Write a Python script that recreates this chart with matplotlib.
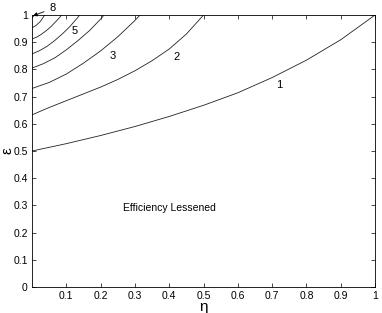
import matplotlib
matplotlib.use('Agg')
import matplotlib.pyplot as plt

plt.rcParams['font.family'] = ['Liberation Sans', 'DejaVu Sans']

# contour curves: (eta, epsilon) points
curve1_eta = [0.0, 0.1, 0.2, 0.3, 0.4, 0.5, 0.6, 0.7, 0.8, 0.9, 1.0]
curve1_eps = [0.50, 0.527, 0.557, 0.59, 0.627, 0.668, 0.714, 0.77, 0.834, 0.909, 1.0]

curve2_eta = [0.0, 0.05, 0.1, 0.15, 0.2, 0.25, 0.3, 0.35, 0.4, 0.45, 0.5]
curve2_eps = [0.633, 0.66, 0.685, 0.71, 0.735, 0.763, 0.795, 0.832, 0.875, 0.93, 1.0]

curve3_eta = [0.0, 0.05, 0.1, 0.15, 0.2, 0.25, 0.3, 0.315]
curve3_eps = [0.73, 0.752, 0.783, 0.823, 0.868, 0.92, 0.98, 1.0]

curve4_eta = [0.0, 0.033, 0.067, 0.1, 0.133, 0.167, 0.2, 0.21]
curve4_eps = [0.805, 0.821, 0.843, 0.872, 0.905, 0.942, 0.985, 1.0]

curve5_eta = [0.0, 0.022, 0.044, 0.066, 0.088, 0.11, 0.132, 0.139]
curve5_eps = [0.857, 0.869, 0.885, 0.906, 0.93, 0.957, 0.989, 1.0]

curve6_eta = [0.0, 0.014, 0.027, 0.041, 0.055, 0.068, 0.082, 0.086]
curve6_eps = [0.912, 0.919, 0.929, 0.942, 0.957, 0.974, 0.993, 1.0]

curve7_eta = [0.0, 0.012, 0.024, 0.037]
curve7_eps = [0.953, 0.962, 0.976, 1.0]

curve8_eta = [0.0, 0.008]
curve8_eps = [0.99, 1.0]

curves = [(curve1_eta, curve1_eps), (curve2_eta, curve2_eps), (curve3_eta, curve3_eps),
          (curve4_eta, curve4_eps), (curve5_eta, curve5_eps), (curve6_eta, curve6_eps),
          (curve7_eta, curve7_eps), (curve8_eta, curve8_eps)]

# inline labels
label_text = ['1', '2', '3', '5']
label_eta = [0.72, 0.42, 0.236, 0.124]
label_eps = [0.744, 0.847, 0.85, 0.943]

fig = plt.figure(figsize=(3.82, 3.13), dpi=100)
ax = fig.add_axes([0.0838, 0.0831, 0.8979, 0.8689])

for eta, eps in curves:
    ax.plot(eta, eps, color='#222222', linewidth=0.6)

for t, x, y in zip(label_text, label_eta, label_eps):
    ax.text(x, y, t, fontsize=8, ha='center', va='center')

ax.annotate('8', xy=(0.003, 0.997), xytext=(0.06, 1.024), fontsize=8,
            ha='center', va='center', annotation_clip=False,
            arrowprops=dict(arrowstyle='-|>', color='black', lw=0.6,
                            mutation_scale=6, shrinkA=2, shrinkB=0))

ax.text(0.40, 0.29, 'Efficiency Lessened', fontsize=7.5, ha='center', va='center')

ax.set_xlim(0, 1)
ax.set_ylim(0, 1)
ax.set_xticks([0.1, 0.2, 0.3, 0.4, 0.5, 0.6, 0.7, 0.8, 0.9, 1.0])
ax.set_xticklabels(['0.1', '0.2', '0.3', '0.4', '0.5', '0.6', '0.7', '0.8', '0.9', '1'])
ax.set_yticks([0, 0.1, 0.2, 0.3, 0.4, 0.5, 0.6, 0.7, 0.8, 0.9, 1.0])
ax.set_yticklabels(['0', '0.1', '0.2', '0.3', '0.4', '0.5', '0.6', '0.7', '0.8', '0.9', '1'])
ax.tick_params(direction='in', length=3, width=0.5, labelsize=7.5, top=True, right=True, pad=3)
for s in ax.spines.values():
    s.set_linewidth(0.6)

ax.set_xlabel('η', fontsize=11, labelpad=-1)
ax.set_ylabel('ε', fontsize=11, labelpad=-1)

fig.savefig('out.png', dpi=100)
